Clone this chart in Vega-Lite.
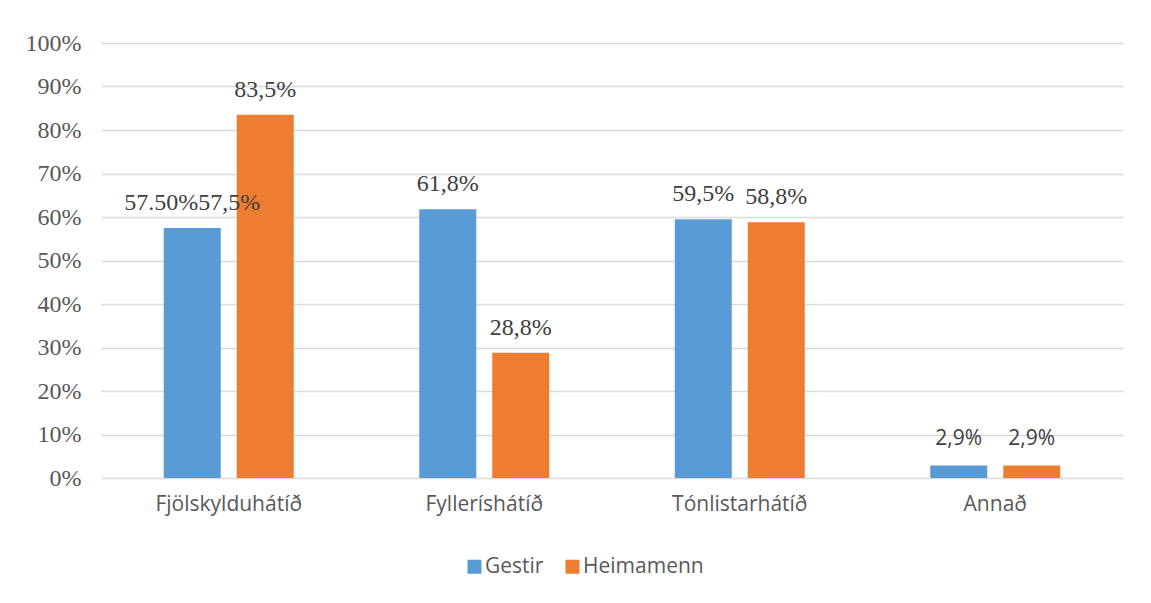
{
  "$schema": "https://vega.github.io/schema/vega-lite/v6.json",
  "autosize": {"type": "none"},
  "width": 1022,
  "height": 435,
  "padding": {"left": 101, "top": 43, "right": 28, "bottom": 125},
  "background": "#ffffff",
  "data": {
    "values": [
      {"category": "Fjölskylduhátíð", "group": "Gestir", "value": 0.575, "label": "57.50%57,5%"},
      {"category": "Fjölskylduhátíð", "group": "Heimamenn", "value": 0.835, "label": "83,5%"},
      {"category": "Fylleríshátíð", "group": "Gestir", "value": 0.618, "label": "61,8%"},
      {"category": "Fylleríshátíð", "group": "Heimamenn", "value": 0.288, "label": "28,8%"},
      {"category": "Tónlistarhátíð", "group": "Gestir", "value": 0.595, "label": "59,5%"},
      {"category": "Tónlistarhátíð", "group": "Heimamenn", "value": 0.588, "label": "58,8%"},
      {"category": "Annað", "group": "Gestir", "value": 0.029, "label": "2,9%"},
      {"category": "Annað", "group": "Heimamenn", "value": 0.029, "label": "2,9%"}
    ]
  },
  "encoding": {
    "x": {
      "field": "category", "type": "nominal", "sort": null,
      "scale": {"paddingInner": 0, "paddingOuter": 0},
      "axis": {"title": null, "labelAngle": 0, "domain": false, "ticks": false,
        "labelFont": "Open Sans", "labelFontSize": 21, "labelColor": "#595959", "labelPadding": 15}
    },
    "xOffset": {"field": "group", "type": "nominal", "scale": {"paddingInner": 0.219, "paddingOuter": 0.86}},
    "y": {
      "field": "value", "type": "quantitative",
      "scale": {"domain": [0, 1]},
      "axis": {"title": null, "values": [0, 0.1, 0.2, 0.3, 0.4, 0.5, 0.6, 0.7, 0.8, 0.9, 1], "format": ".0%",
        "domain": false, "ticks": false, "grid": true, "gridColor": "#D9D9D9", "gridWidth": 1.5,
        "labelFont": "Liberation Serif", "labelFontSize": 24, "labelColor": "#595959", "labelPadding": 20}
    }
  },
  "layer": [
    {
      "mark": {"type": "bar"},
      "encoding": {
        "color": {"field": "group", "type": "nominal",
          "scale": {"domain": ["Gestir", "Heimamenn"], "range": ["#5B9BD5", "#ED7D31"]},
          "legend": {"title": null, "orient": "none", "direction": "horizontal", "legendX": 363, "legendY": 513,
            "symbolType": "square", "symbolSize": 196, "symbolStrokeWidth": 0, "symbolOpacity": 1,
            "labelFont": "Open Sans", "labelFontSize": 21, "labelColor": "#595959", "columnPadding": 18, "labelOffset": 0}
        }
      }
    },
    {
      "transform": [{"filter": "datum.category !== 'Annað'"}],
      "mark": {"type": "text", "baseline": "alphabetic", "dy": -18, "font": "Liberation Serif", "fontSize": 24, "color": "#404040"},
      "encoding": {"text": {"field": "label"}}
    },
    {
      "transform": [{"filter": "datum.category === 'Annað'"}],
      "mark": {"type": "text", "baseline": "alphabetic", "dy": -20, "font": "Open Sans", "fontSize": 21, "color": "#404040"},
      "encoding": {"text": {"field": "label"}}
    }
  ],
  "config": {"view": {"stroke": null}}
}
